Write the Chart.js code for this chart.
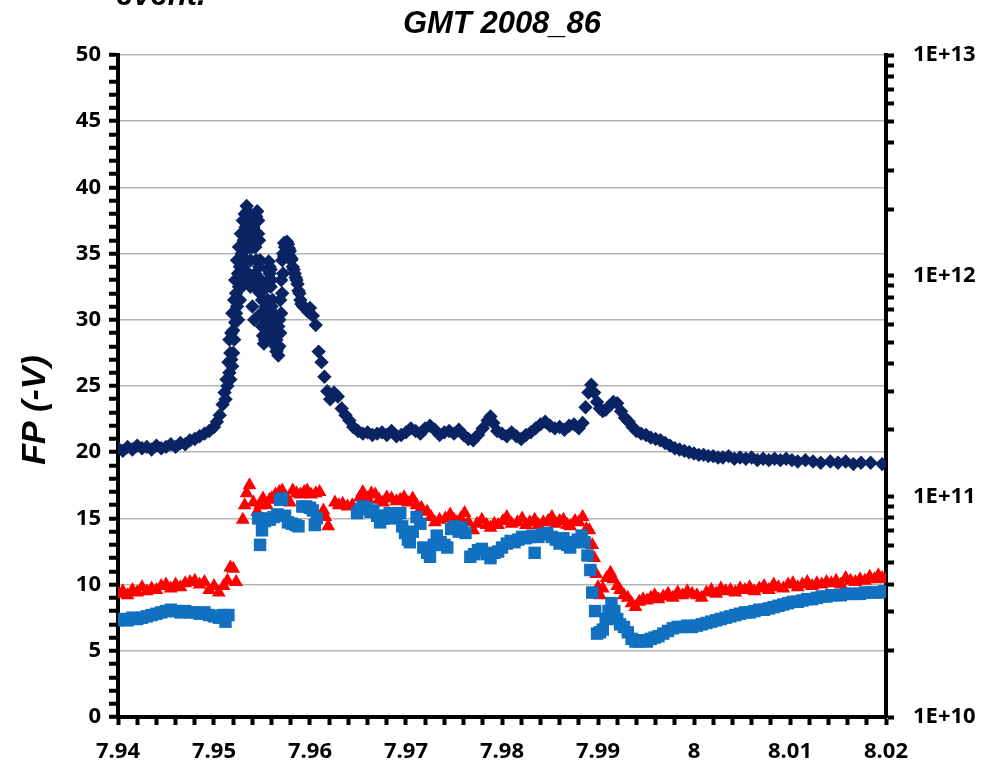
<!DOCTYPE html>
<html>
<head>
<meta charset="utf-8">
<script src="https://cdn.jsdelivr.net/npm/chart.js@4"></script>
<style>
  html, body { margin: 0; padding: 0; background: #fff; }
  #wrap { width: 996px; height: 765px; }
</style>
</head>
<body>
<div id="wrap"><canvas id="fp" width="996" height="765"></canvas></div>
<script>
// ===== data =====
const navyX = [
  7.9400, 7.9405, 7.9410, 7.9415, 7.9420, 7.9425, 7.9430, 7.9435, 7.9440, 7.9445,
  7.9450, 7.9455, 7.9460, 7.9465, 7.9470, 7.9475, 7.9480, 7.9485, 7.9490, 7.9495,
  7.9500, 7.9503, 7.9506, 7.9509, 7.9511, 7.9513, 7.9515, 7.9516, 7.9517, 7.9518,
  7.9519, 7.9520, 7.9521, 7.9522, 7.9523, 7.9524, 7.9525, 7.9526, 7.9527, 7.9528,
  7.9529, 7.9530, 7.9531, 7.9532, 7.9533, 7.9534, 7.9535, 7.9536, 7.9537, 7.9538,
  7.9539, 7.9540, 7.9541, 7.9542, 7.9543, 7.9544, 7.9545, 7.9546, 7.9547, 7.9548,
  7.9549, 7.9550, 7.9551, 7.9552, 7.9553, 7.9554, 7.9555, 7.9556, 7.9557, 7.9558,
  7.9559, 7.9560, 7.9561, 7.9562, 7.9563, 7.9564, 7.9565, 7.9566, 7.9567, 7.9568,
  7.9569, 7.9570, 7.9571, 7.9572, 7.9573, 7.9574, 7.9575, 7.9576, 7.9577, 7.9578,
  7.9579, 7.9580, 7.9582, 7.9584, 7.9586, 7.9588, 7.9590, 7.9593, 7.9596, 7.9600,
  7.9603, 7.9606, 7.9609, 7.9612, 7.9615, 7.9618, 7.9621, 7.9625, 7.9629, 7.9633,
  7.9637, 7.9641, 7.9645, 7.9650, 7.9655, 7.9660, 7.9665, 7.9670, 7.9675, 7.9680,
  7.9685, 7.9690, 7.9695, 7.9700, 7.9705, 7.9710, 7.9715, 7.9720, 7.9725, 7.9730,
  7.9735, 7.9740, 7.9745, 7.9750, 7.9755, 7.9760, 7.9765, 7.9770, 7.9775, 7.9780,
  7.9785, 7.9788, 7.9791, 7.9795, 7.9800, 7.9805, 7.9810, 7.9815, 7.9820, 7.9825,
  7.9830, 7.9835, 7.9840, 7.9845, 7.9850, 7.9855, 7.9860, 7.9865, 7.9870, 7.9875,
  7.9880, 7.9884, 7.9887, 7.9890, 7.9893, 7.9896, 7.9899, 7.9902, 7.9905, 7.9908,
  7.9912, 7.9916, 7.9920, 7.9924, 7.9928, 7.9932, 7.9936, 7.9940, 7.9945, 7.9950,
  7.9955, 7.9960, 7.9965, 7.9970, 7.9975, 7.9980, 7.9985, 7.9990, 7.9995, 8.0000,
  8.0005, 8.0010, 8.0015, 8.0020, 8.0025, 8.0030, 8.0036, 8.0042, 8.0048, 8.0054,
  8.0060, 8.0066, 8.0072, 8.0078, 8.0084, 8.0090, 8.0096, 8.0102, 8.0108, 8.0116,
  8.0124, 8.0132, 8.0142, 8.0150, 8.0158, 8.0166, 8.0174, 8.0184, 8.0196,
  // peak band, second pass
  7.9512, 7.9514, 7.9516, 7.9517, 7.9518, 7.9519, 7.9520, 7.9521, 7.9522, 7.9523,
  7.9524, 7.9525, 7.9526, 7.9527, 7.9528, 7.9529, 7.9530, 7.9531, 7.9532, 7.9533,
  7.9534, 7.9535, 7.9536, 7.9537, 7.9538, 7.9539, 7.9540, 7.9541, 7.9542, 7.9543,
  7.9544, 7.9545, 7.9546, 7.9547, 7.9548, 7.9549, 7.9550, 7.9551, 7.9552, 7.9553,
  7.9554, 7.9555, 7.9556, 7.9557, 7.9558, 7.9559, 7.9560, 7.9561, 7.9562, 7.9563,
  7.9564, 7.9565, 7.9566, 7.9567, 7.9568, 7.9569, 7.9570, 7.9571, 7.9572, 7.9573,
  7.9579, 7.9581, 7.9583, 7.9585, 7.9587, 7.9589, 7.9591, 7.9598
];
const navyY = [
  20.3, 20.1, 20.4, 20.2, 20.5, 20.3, 20.4, 20.2, 20.5, 20.3,
  20.4, 20.6, 20.4, 20.7, 20.6, 20.9, 21.0, 21.2, 21.4, 21.6,
  21.9, 22.3, 22.8, 23.6, 24.5, 25.5, 26.8, 28.5, 27.5, 29.0,
  30.5, 29.2, 31.5, 33.0, 32.0, 34.5, 33.5, 35.5, 34.0, 36.5,
  35.0, 37.5, 36.0, 38.0, 34.5, 38.6, 36.5, 33.5, 37.8, 32.5,
  36.0, 31.0, 37.0, 30.0, 35.5, 37.8, 38.2, 36.5, 34.0, 32.0,
  30.5, 29.5, 28.8, 28.2, 29.5, 31.0, 32.5, 33.8, 34.4, 34.0,
  32.5, 31.0, 29.5, 28.5, 30.0, 28.0, 27.6, 28.8, 27.3, 28.0,
  29.0, 30.5, 32.0, 33.5, 34.8, 35.5, 35.8, 35.9, 35.7, 35.4,
  34.8, 34.5, 34.0, 33.5, 33.0, 32.2, 31.5, 31.0, 30.8, 30.9,
  30.3, 29.6, 27.6, 26.8, 25.7, 24.6, 24.0, 24.5, 24.2, 23.3,
  22.8, 22.4, 21.9, 21.6, 21.4, 21.5, 21.3, 21.4, 21.5, 21.3,
  21.6, 21.2, 21.3, 21.5, 21.8, 21.6, 21.4, 21.8, 22.0, 21.7,
  21.3, 21.5, 21.6, 21.4, 21.7, 21.3, 21.0, 20.9, 21.3, 21.8,
  22.4, 22.7, 22.2, 21.6, 21.4, 21.2, 21.5, 21.2, 21.0, 21.3,
  21.5, 21.8, 22.1, 22.3, 22.0, 21.8, 21.9, 21.7, 22.0, 22.1,
  21.8, 22.2, 23.4, 24.5, 25.1, 24.5, 23.8, 23.3, 23.1, 23.2,
  23.5, 23.8, 23.7, 23.1, 22.6, 22.3, 21.9, 21.6, 21.4, 21.3,
  21.1, 21.0, 20.9, 20.7, 20.5, 20.3, 20.2, 20.1, 20.0, 19.9,
  19.8, 19.8, 19.7, 19.7, 19.6, 19.6, 19.7, 19.5, 19.6, 19.5,
  19.6, 19.4, 19.5, 19.4, 19.5, 19.4, 19.5, 19.4, 19.3, 19.4,
  19.3, 19.2, 19.3, 19.2, 19.3, 19.1, 19.2, 19.2, 19.1,
  24.0, 25.0, 26.0, 25.5, 27.0, 26.5, 27.5, 28.5, 29.8, 30.5,
  31.0, 30.0, 32.5, 31.5, 33.5, 32.5, 34.0, 33.0, 35.5, 37.0,
  35.5, 38.2, 37.0, 35.5, 34.5, 37.5, 35.5, 33.0, 32.5, 33.5,
  34.5, 36.0, 37.5, 36.0, 34.5, 33.0, 31.5, 30.5, 29.5, 28.5,
  29.0, 30.0, 31.5, 33.0, 33.5, 33.8, 33.0, 31.5, 30.5, 29.0,
  29.5, 28.5, 27.8, 29.5, 30.0, 31.5, 33.0, 34.5, 35.0, 35.8,
  35.2, 34.6, 33.8, 33.2, 32.7, 32.0, 31.2, 30.6
];

const redX = [
  7.9400, 7.9405, 7.9410, 7.9415, 7.9420, 7.9425, 7.9430, 7.9435, 7.9440, 7.9445,
  7.9450, 7.9455, 7.9460, 7.9465, 7.9470, 7.9475, 7.9480, 7.9485, 7.9490, 7.9495,
  7.9500, 7.9505, 7.9510, 7.9514, 7.9517, 7.9520, 7.9523,
  7.9530, 7.9532, 7.9534, 7.9537, 7.9541, 7.9545, 7.9548, 7.9551, 7.9555, 7.9558,
  7.9560, 7.9564, 7.9568, 7.9571, 7.9575, 7.9579, 7.9582, 7.9586, 7.9590, 7.9594,
  7.9597, 7.9601, 7.9606, 7.9610, 7.9614, 7.9616, 7.9619,
  7.9626, 7.9630, 7.9634, 7.9639, 7.9644, 7.9652, 7.9655, 7.9660, 7.9664, 7.9668,
  7.9672, 7.9676, 7.9680, 7.9685, 7.9690, 7.9694, 7.9698, 7.9702, 7.9707, 7.9711,
  7.9716, 7.9722, 7.9726, 7.9730, 7.9735, 7.9741, 7.9746, 7.9750, 7.9753, 7.9757,
  7.9761, 7.9765, 7.9770, 7.9774, 7.9779, 7.9784, 7.9788, 7.9792, 7.9796, 7.9801,
  7.9805, 7.9810, 7.9816, 7.9821, 7.9825, 7.9829, 7.9834, 7.9838, 7.9843, 7.9848,
  7.9852, 7.9856, 7.9860, 7.9864, 7.9868, 7.9871, 7.9876, 7.9880, 7.9884, 7.9888,
  7.9891, 7.9894, 7.9896, 7.9898, 7.9900, 7.9902, 7.9905, 7.9909, 7.9913, 7.9916,
  7.9920, 7.9923, 7.9927, 7.9931, 7.9935, 7.9939, 7.9943, 7.9947, 7.9951, 7.9955,
  7.9959, 7.9963, 7.9968, 7.9973, 7.9978, 7.9983, 7.9988, 7.9993, 7.9998, 8.0003,
  8.0008, 8.0013, 8.0018, 8.0023, 8.0028, 8.0033, 8.0038, 8.0043, 8.0048, 8.0053,
  8.0058, 8.0063, 8.0068, 8.0073, 8.0078, 8.0083, 8.0088, 8.0093, 8.0098, 8.0103,
  8.0108, 8.0113, 8.0118, 8.0123, 8.0128, 8.0133, 8.0138, 8.0143, 8.0148, 8.0153,
  8.0158, 8.0163, 8.0168, 8.0173, 8.0178, 8.0183, 8.0188, 8.0192, 8.0196, 8.0200
];
const redY = [
  9.3, 9.5, 9.2, 9.6, 9.4, 9.8, 9.5, 9.7, 9.6, 9.9,
  10.0, 9.7, 10.0, 9.8, 10.1, 10.2, 10.3, 10.0, 10.2, 9.6,
  9.9, 9.4, 9.9, 10.3, 11.3, 11.2, 10.2,
  14.9, 16.0, 16.9, 17.5, 16.2, 15.5, 16.0, 16.5, 16.0, 16.4,
  16.5, 16.8, 17.0, 17.1, 16.6, 16.2, 17.1, 16.9, 16.8, 17.0,
  17.1, 16.8, 16.9, 17.0, 15.6, 15.1, 14.4,
  16.2, 16.0, 16.1, 15.9, 16.0, 16.6, 17.0, 16.5, 16.9, 16.8,
  16.4, 16.2, 16.6, 16.5, 16.3, 16.4, 16.6, 16.2, 16.5, 16.0,
  15.8, 15.5, 15.1, 14.7, 14.9, 15.0, 15.3, 14.9, 14.7, 15.0,
  15.4, 14.7, 14.1, 14.6, 14.9, 14.5, 14.3, 14.6, 14.5, 14.8,
  15.1, 14.6, 14.7, 15.0, 14.5, 14.7, 14.9, 14.5, 14.7, 14.8,
  15.1, 14.6, 14.8, 14.9, 14.5, 14.4, 14.8, 14.7, 15.1, 14.2,
  14.1, 13.0, 12.0, 10.8, 9.8, 9.2, 9.7, 10.5, 10.9, 10.4,
  9.9, 9.6, 9.2, 9.0, 8.6, 8.3, 8.7, 8.9, 8.8, 9.0,
  9.2, 8.9, 9.1, 9.3, 9.0, 9.4, 9.2, 9.5, 9.3, 9.2,
  9.0, 9.4, 9.6, 9.3, 9.7, 9.5, 9.6, 9.4, 9.7, 9.6,
  9.8, 9.5, 9.7, 9.9, 9.6, 10.0, 9.8, 9.7, 10.0, 10.1,
  9.8, 10.0, 10.2, 9.9, 10.1, 10.0, 10.2, 10.1, 10.3, 10.0,
  10.5, 10.3, 10.2, 10.4, 10.3, 10.6, 10.4, 10.7, 10.5, 10.4
];

const blueX = [
  7.9400, 7.9405, 7.9410, 7.9415, 7.9420, 7.9425, 7.9430, 7.9435, 7.9440, 7.9445,
  7.9450, 7.9455, 7.9460, 7.9465, 7.9470, 7.9475, 7.9480, 7.9485, 7.9490, 7.9495,
  7.9500, 7.9505, 7.9509, 7.9512, 7.9515,
  7.9546, 7.9548, 7.9550, 7.9553, 7.9556, 7.9558, 7.9562, 7.9566, 7.9569, 7.9571,
  7.9574, 7.9577, 7.9581, 7.9585, 7.9588, 7.9592, 7.9596, 7.9600, 7.9603, 7.9605,
  7.9607,
  7.9649, 7.9652, 7.9655, 7.9659, 7.9663, 7.9666, 7.9670, 7.9673, 7.9677, 7.9680,
  7.9683, 7.9686, 7.9690, 7.9694, 7.9696, 7.9699, 7.9702, 7.9704, 7.9707, 7.9711,
  7.9715, 7.9718, 7.9722, 7.9725, 7.9729, 7.9732, 7.9736, 7.9740, 7.9743, 7.9747,
  7.9751, 7.9755, 7.9758, 7.9762, 7.9767, 7.9771, 7.9775, 7.9779, 7.9784, 7.9788,
  7.9792, 7.9796, 7.9800, 7.9805, 7.9809, 7.9813, 7.9817, 7.9821, 7.9825, 7.9829,
  7.9832, 7.9834, 7.9838, 7.9842, 7.9847, 7.9852, 7.9856, 7.9860, 7.9864, 7.9868,
  7.9871, 7.9875, 7.9879, 7.9883, 7.9886, 7.9889, 7.9892, 7.9894, 7.9897, 7.9899,
  7.9902, 7.9905, 7.9908, 7.9911, 7.9914, 7.9917, 7.9920, 7.9923, 7.9927, 7.9931,
  7.9935, 7.9939, 7.9943, 7.9947, 7.9951, 7.9955, 7.9959, 7.9963, 7.9968, 7.9973,
  7.9978, 7.9983, 7.9988, 7.9993, 7.9998, 8.0003, 8.0008, 8.0013, 8.0018, 8.0023,
  8.0028, 8.0033, 8.0038, 8.0043, 8.0048, 8.0053, 8.0058, 8.0063, 8.0068, 8.0073,
  8.0078, 8.0083, 8.0088, 8.0093, 8.0098, 8.0103, 8.0108, 8.0113, 8.0118, 8.0123,
  8.0128, 8.0133, 8.0138, 8.0143, 8.0148, 8.0153, 8.0158, 8.0163, 8.0168, 8.0173,
  8.0178, 8.0183, 8.0188, 8.0193, 8.0198
];
const blueY = [
  7.3, 7.4, 7.3, 7.5, 7.4, 7.5, 7.6, 7.7, 7.8, 7.9,
  8.0, 8.1, 8.0, 7.9, 8.0, 7.9, 7.9, 7.8, 7.9, 7.7,
  7.6, 7.5, 7.7, 7.2, 7.7,
  15.0, 13.0, 14.1, 14.8, 15.0, 14.9, 15.1, 15.3, 16.4, 16.5,
  15.2, 14.7, 14.6, 14.5, 14.4, 15.9, 15.9, 15.8, 15.6, 14.5,
  15.0,
  15.4, 15.7, 15.9, 15.8, 15.5, 15.6, 15.2, 14.7, 15.0, 15.2,
  15.4, 15.0, 15.2, 15.4, 14.4, 13.9, 13.4, 13.2, 14.0, 15.1,
  14.6, 12.8, 12.4, 12.1, 13.0, 13.7, 13.2, 13.0, 12.8, 14.2,
  14.4, 14.0, 14.3, 13.9, 12.1, 12.3, 12.6, 12.7, 12.3, 12.0,
  12.4, 12.5, 12.8, 13.1, 13.3, 13.2, 13.4, 13.6, 13.5, 13.6,
  13.7, 12.4, 13.6, 13.8, 13.9, 13.6, 13.4, 13.1, 13.5, 13.0,
  12.8, 13.2, 13.4, 13.7, 13.2, 12.2, 11.1, 9.4, 8.0, 6.3,
  6.4, 6.6, 7.4, 8.0, 8.6, 8.0, 7.4, 7.0, 6.8, 6.4,
  5.9, 5.7, 5.7, 5.8, 5.7, 5.9, 6.0, 6.1, 6.3, 6.5,
  6.7, 6.8, 6.8, 6.9, 6.8, 6.9, 7.0, 7.1, 7.2, 7.3,
  7.4, 7.5, 7.6, 7.7, 7.8, 7.9, 7.9, 8.0, 8.1, 8.1,
  8.2, 8.3, 8.4, 8.5, 8.6, 8.7, 8.7, 8.8, 8.9, 8.9,
  9.0, 9.1, 9.1, 9.2, 9.2, 9.2, 9.3, 9.3, 9.3, 9.3,
  9.4, 9.4, 9.4, 9.4, 9.5
];

// right (log) axis tick values and labels
const rightTicks = [
  1e10, 2e10, 3e10, 4e10, 5e10, 6e10, 7e10, 8e10, 9e10,
  1e11, 2e11, 3e11, 4e11, 5e11, 6e11, 7e11, 8e11, 9e11,
  1e12, 2e12, 3e12, 4e12, 5e12, 6e12, 7e12, 8e12, 9e12,
  1e13
];
const rightLabels = { 1e10: '1E+10', 1e11: '1E+11', 1e12: '1E+12', 1e13: '1E+13' };

const chartTitle = 'GMT 2008_86';
const topCutText = 'event.';
const yTitle = 'FP (-V)';

// ===== helpers =====
const pts = (xs, ys) => xs.map((x, i) => ({ x, y: ys[i] }));
const tickFont = { family: '"Noto Sans", sans-serif', size: 22, weight: 'bold' };

// 文字（標題、Y 軸標題、上方被切掉的字）
const textPlugin = {
  id: 'texts',
  beforeDraw(chart) {
    const c = chart.ctx;
    c.save();
    c.fillStyle = '#fff';
    c.fillRect(0, 0, chart.width, chart.height);
    c.restore();
  },
  afterDraw(chart) {
    const c = chart.ctx;
    c.save();
    c.fillStyle = '#000';
    c.font = 'italic bold 31px "Liberation Sans", Arial, sans-serif';
    c.textAlign = 'center';
    c.textBaseline = 'alphabetic';
    c.fillText(chartTitle, 502, 33);

    c.textAlign = 'left';
    c.fillText(topCutText, 116, 5);

    c.translate(36, 410);
    c.rotate(-Math.PI / 2);
    c.textAlign = 'center';
    c.textBaseline = 'middle';
    c.font = 'italic bold 34px "Liberation Sans", Arial, sans-serif';
    c.fillText(yTitle, 0, 0);
    c.restore();
  }
};

// ===== chart =====
new Chart(document.getElementById('fp'), {
  type: 'scatter',
  data: {
    datasets: [
      {
        label: 'FP',
        data: pts(navyX, navyY),
        pointStyle: 'rectRot',
        pointRadius: 7.2,
        backgroundColor: '#0a2463',
        borderColor: '#0a2463',
        borderWidth: 0,
        order: 0
      },
      {
        label: 'blue',
        data: pts(blueX, blueY),
        pointStyle: 'rect',
        pointRadius: 8.8,
        backgroundColor: '#1170c0',
        borderColor: '#1170c0',
        borderWidth: 0,
        order: 1
      },
      {
        label: 'red',
        data: pts(redX, redY),
        pointStyle: 'triangle',
        pointRadius: 8,
        backgroundColor: '#ff0000',
        borderColor: '#ff0000',
        borderWidth: 0,
        order: 2
      }
    ]
  },
  options: {
    responsive: false,
    animation: false,
    events: [],
    layout: { padding: { top: 55, left: 0, right: 0, bottom: 0 } },
    plugins: {
      legend: { display: false },
      title: { display: false },
      tooltip: { enabled: false }
    },
    scales: {
      x: {
        type: 'linear',
        min: 7.94,
        max: 8.02,
        afterFit: s => { s.height = 48; },
        border: { color: '#000', width: 4 },
        grid: {
          drawOnChartArea: false,
          tickLength: 8,
          tickColor: '#000',
          tickWidth: 4
        },
        ticks: {
          stepSize: 0.002,
          autoSkip: false,
          maxRotation: 0,
          padding: 14,
          color: '#000',
          font: tickFont,
          callback: v => {
            const h = v * 100;
            if (Math.abs(h - Math.round(h)) > 1e-6) return '';
            return String(Number(v.toFixed(2)));
          }
        }
      },
      y: {
        type: 'linear',
        position: 'left',
        min: 0,
        max: 50,
        afterFit: s => { s.width = 118; },
        border: { color: '#000', width: 4 },
        grid: {
          color: ctx => (ctx.tick && ctx.tick.value % 5 === 0) ? '#b4b4b4' : 'rgba(0,0,0,0)',
          lineWidth: 1.5,
          tickLength: 9,
          tickColor: '#000',
          tickWidth: 4
        },
        ticks: {
          stepSize: 1,
          autoSkip: false,
          padding: 8,
          color: '#000',
          font: tickFont,
          callback: v => (v % 5 === 0 ? String(v) : '')
        }
      },
      y2: {
        type: 'logarithmic',
        position: 'right',
        min: 1e10,
        max: 1e13,
        afterFit: s => { s.width = 110; },
        afterBuildTicks: s => { s.ticks = rightTicks.map(v => ({ value: v })); },
        border: { color: '#000', width: 4 },
        grid: {
          drawOnChartArea: false,
          tickLength: 8,
          tickColor: '#000',
          tickWidth: 4
        },
        ticks: {
          autoSkip: false,
          padding: 19,
          color: '#000',
          font: tickFont,
          callback: v => rightLabels[v] || ''
        }
      }
    }
  },
  plugins: [textPlugin]
});
</script>
</body>
</html>
